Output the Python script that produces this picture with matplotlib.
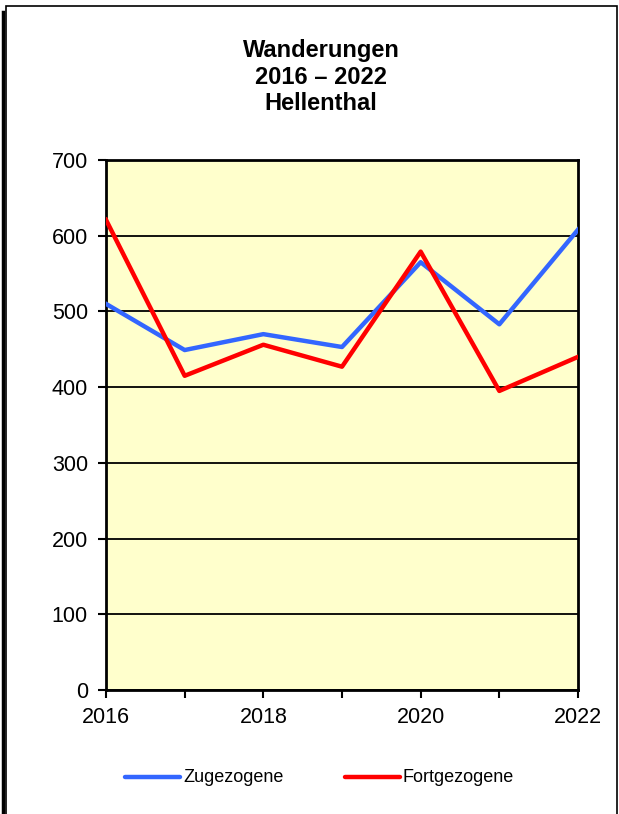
import matplotlib.pyplot as plt
from matplotlib.patches import Rectangle
from matplotlib.lines import Line2D

plt.rcParams['font.family'] = ['Liberation Sans', 'DejaVu Sans']

years = [2016, 2017, 2018, 2019, 2020, 2021, 2022]
zugezogene = [510, 449, 470, 453, 565, 483, 608]
fortgezogene = [621, 415, 456, 427, 579, 395, 440]
yticks = [0, 100, 200, 300, 400, 500, 600, 700]
xtick_labels = [2016, 2018, 2020, 2022]

W, H = 619, 814
fig = plt.figure(figsize=(W / 100, H / 100), dpi=100)

# outer frame and left bar
fig.add_artist(Rectangle((6 / W, -0.01), 611 / W, (H - 6) / H + 0.01, transform=fig.transFigure,
                         fill=False, edgecolor='black', linewidth=1.2))
fig.add_artist(Line2D([3 / W, 3 / W], [0, 1 - 12 / H], transform=fig.transFigure,
                      color='black', linewidth=2.5))

ax = fig.add_axes([106 / W, 1 - 690 / H, 472 / W, 530 / H])
ax.set_facecolor('#FFFFCC')

ax.plot(years, zugezogene, color='#3366FF', linewidth=3.2, zorder=3)
ax.plot(years, fortgezogene, color='#FF0000', linewidth=3.2, zorder=3)

ax.set_xlim(2016, 2022)
ax.set_ylim(0, 700)
ax.set_yticks(yticks)
ax.set_xticks(years)
ax.set_xticklabels([str(y) if y in xtick_labels else '' for y in years])
ax.tick_params(axis='both', direction='out', length=6, width=1.5, labelsize=15.5, pad=7)
ax.tick_params(axis='x', pad=6)
ax.yaxis.grid(True, color='black', linewidth=1.3)
ax.set_axisbelow(True)
for s in ax.spines.values():
    s.set_linewidth(2)

fig.text(321 / W, 1 - 39 / H, 'Wanderungen\n2016 – 2022\nHellenthal', ha='center', va='top',
         fontsize=17, fontweight='bold', linespacing=1.2)

# legend
ly = 1 - 777 / H
fig.add_artist(Line2D([125 / W, 180 / W], [ly, ly], transform=fig.transFigure,
                      color='#3366FF', linewidth=3.2, solid_capstyle='round'))
fig.text(183 / W, ly, 'Zugezogene', va='center', fontsize=13)
fig.add_artist(Line2D([345 / W, 400 / W], [ly, ly], transform=fig.transFigure,
                      color='#FF0000', linewidth=3.2, solid_capstyle='round'))
fig.text(403 / W, ly, 'Fortgezogene', va='center', fontsize=13)

fig.savefig('out.png', dpi=100)
